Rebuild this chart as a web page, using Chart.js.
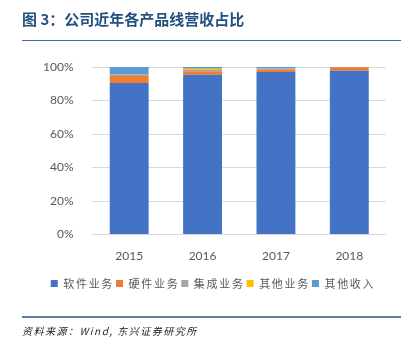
<!DOCTYPE html>
<html>
<head>
<meta charset="utf-8">
<script src="https://cdn.jsdelivr.net/npm/chart.js@4/dist/chart.umd.min.js"></script>
<style>
  html, body { margin: 0; padding: 0; background: #fff; }
  #wrap { position: relative; width: 412px; height: 352px; overflow: hidden; }
  #box { position: absolute; left: 0; top: 0; width: 412px; height: 352px; }
  .title { position: absolute; left: 22px; top: 8px; font: bold 15px "Noto Sans CJK SC"; color: #24507f; white-space: nowrap; }
  .rule1 { position: absolute; left: 22px; top: 40px; width: 379px; height: 1px; background: #3a6ea5; }
  .rule2 { position: absolute; left: 22px; top: 316px; width: 379px; height: 2px; background: #5b7fa6; }
  .src { position: absolute; left: 22px; top: 323px; font: italic 10px "Noto Sans CJK SC"; letter-spacing: 1.5px; color: #222; white-space: nowrap; }
</style>
</head>
<body>
<div id="wrap">
  <div id="box"><canvas id="chart"></canvas></div>
  <div class="title">图 3：公司近年各产品线营收占比</div>
  <div class="rule1"></div>
  <div class="rule2"></div>
  <div class="src">资料来源：Wind, 东兴证券研究所</div>
</div>
<script>
// 年份与各业务占比（%）
const years = ['2015', '2016', '2017', '2018'];
const software = [90.4, 95.4, 97.0, 97.8];
const hardware = [4.2, 2.0, 1.3, 2.0];
const integration = [1.0, 0.8, 1.0, 0.0];
const otherBiz = [0.0, 0.8, 0.0, 0.0];
const otherIncome = [4.4, 1.0, 0.7, 0.2];
const yTicks = [0, 20, 40, 60, 80, 100];

const seriesNames = ['软件业务', '硬件业务', '集成业务', '其他业务', '其他收入'];
const seriesColors = ['#4472c4', '#ed7d31', '#a5a5a5', '#ffc000', '#5b9bd5'];
const seriesData = [software, hardware, integration, otherBiz, otherIncome];

const ctx = document.getElementById('chart').getContext('2d');

// 图例文字加字距，并略微右移
const legendSpacing = {
  id: 'legendSpacing',
  afterInit(chart) {
    const lg = chart.legend;
    const fit = lg.fit.bind(lg);
    const draw = lg.draw.bind(lg);
    lg.fit = function () { chart.ctx.save(); chart.ctx.letterSpacing = '1.7px'; fit(); chart.ctx.restore(); };
    lg.draw = function () {
      chart.ctx.save();
      chart.ctx.letterSpacing = '1.7px';
      chart.ctx.translate(8, 0);
      draw();
      chart.ctx.restore();
    };
  }
};

new Chart(ctx, {
  type: 'bar',
  data: {
    labels: years,
    datasets: seriesData.map((d, i) => ({
      label: seriesNames[i],
      data: d,
      backgroundColor: seriesColors[i],
      borderWidth: 0,
      categoryPercentage: 1,
      barPercentage: 0.53
    }))
  },
  options: {
    responsive: true,
    maintainAspectRatio: false,
    animation: false,
    layout: { padding: { left: 24, right: 26, top: 67, bottom: 53 } },
    plugins: {
      legend: {
        position: 'bottom',
        labels: {
          boxWidth: 7, boxHeight: 7, padding: 2,
          color: '#595959',
          font: { family: 'Noto Sans CJK SC', size: 11 }
        }
      },
      tooltip: { enabled: false }
    },
    scales: {
      x: {
        stacked: true,
        grid: { display: false },
        border: { display: false },
        afterFit(scale) { scale.height += 7; },
        ticks: { color: '#595959', font: { family: 'Lato', size: 12 }, padding: 6 }
      },
      y: {
        stacked: true,
        min: 0, max: 100,
        afterBuildTicks(scale) { scale.ticks = yTicks.map(v => ({ value: v })); },
        grid: { color: '#d9d9d9', drawTicks: false },
        border: { display: false },
        ticks: { color: '#595959', font: { family: 'Lato', size: 12 }, padding: 19, callback: v => v + '%' }
      }
    }
  },
  plugins: [legendSpacing]
});
</script>
</body>
</html>
